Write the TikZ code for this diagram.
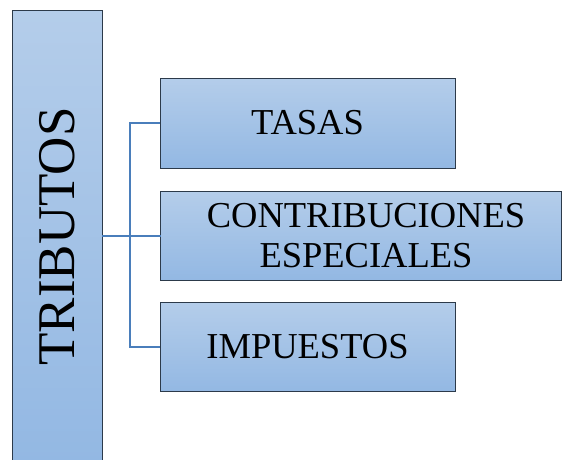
\documentclass[tikz,border=0pt]{standalone}
\usepackage{fontspec}
\setmainfont{Liberation Serif}
\definecolor{boxtop}{RGB}{180,205,234}
\definecolor{boxbot}{RGB}{147,184,227}
\definecolor{boxline}{RGB}{44,58,74}
\definecolor{connline}{RGB}{74,126,187}
\begin{document}
\begin{tikzpicture}[x=1pt,y=-1pt,
  box/.style={draw=boxline, line width=1pt, top color=boxtop, bottom color=boxbot,
    inner sep=0pt, outer sep=0pt, align=center, text=black,
    font=\fontsize{36.5}{39.5}\selectfont},
  conn/.style={draw=connline, line width=2pt}]
\useasboundingbox (0,0) rectangle (563,459);
\clip (0,0) rectangle (563,459);
\node[box, minimum width=89.5pt, minimum height=452pt, font=\fontsize{53}{56}\selectfont] (tribu) at (57.25,236.5) {\rotatebox{90}{TRIBUTOS}};
\node[box, minimum width=295pt, minimum height=90pt] (tasas) at (307.5,123) {TASAS};
\node[box, minimum width=401pt, minimum height=89pt] (contrib) at (361,235.5) {\hspace*{10pt}CONTRIBUCIONES\\\hspace*{10pt}ESPECIALES};
\node[box, minimum width=295pt, minimum height=89pt] (imp) at (307.5,347) {IMPUESTOS};
\coordinate (j) at (130,235.5);
\draw[conn] (tribu.east |- contrib.west) -- (contrib.west);
\draw[conn] (tasas.west) -| (j) |- (imp.west);
\end{tikzpicture}
\end{document}
